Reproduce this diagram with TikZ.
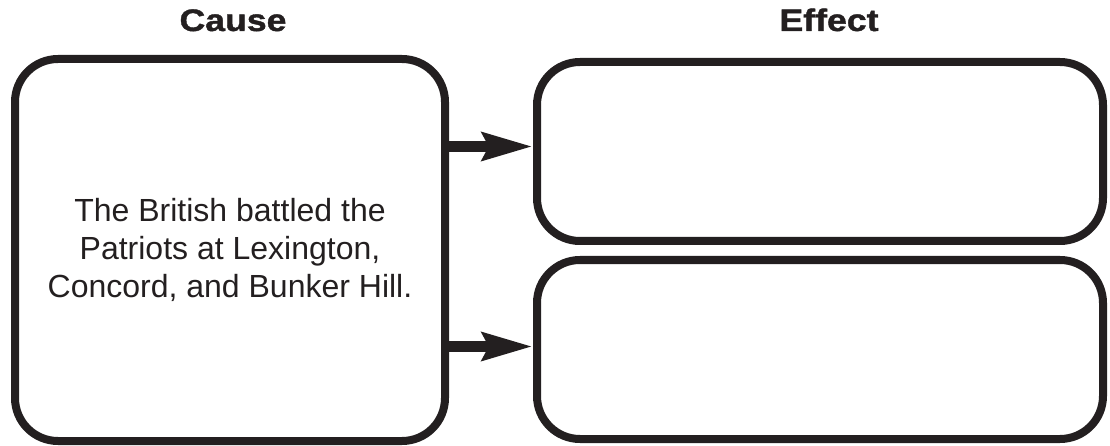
\documentclass[tikz,border=0pt]{standalone}
\usepackage{fontspec}
\setmainfont{Liberation Sans}
\newfontfamily\headfont[FakeStretch=1.15,FakeBold=1.3]{Liberation Sans Bold}
\usetikzlibrary{arrows.meta}
\definecolor{ink}{HTML}{231F20}
\begin{document}
\begin{tikzpicture}[x=1pt,y=-1pt,
  box/.style={draw=ink, line width=8pt, rounded corners=43pt, inner sep=0pt},
  heading/.style={font=\headfont\fontsize{31}{31}\selectfont, text=ink, inner sep=0pt, anchor=base},
  conn/.style={draw=ink, line width=11pt, -{Stealth[length=50pt,width=27pt,inset=6pt]}}
]
\useasboundingbox (0,0) rectangle (1110,446);
\node[box, minimum width=430pt, minimum height=382pt, align=center,
      font=\fontsize{32}{38}\selectfont, text=ink] (cause) at (230,250)
  {The British battled the\\Patriots at Lexington,\\Concord, and Bunker Hill.};
\node[box, minimum width=566pt, minimum height=179pt] (etop) at (820,151.5) {};
\node[box, minimum width=566pt, minimum height=179pt] (ebot) at (820,349.5) {};
\node[heading] (hcause) at (233,31) {Cause};
\node[heading] (heffect) at (829,31) {Effect};
\coordinate (a1) at ([yshift=5pt]etop.west);
\coordinate (a2) at ([yshift=3pt]ebot.west);
\draw[conn] (a1 -| cause.east) -- (a1);
\draw[conn] (a2 -| cause.east) -- (a2);
\end{tikzpicture}
\end{document}
